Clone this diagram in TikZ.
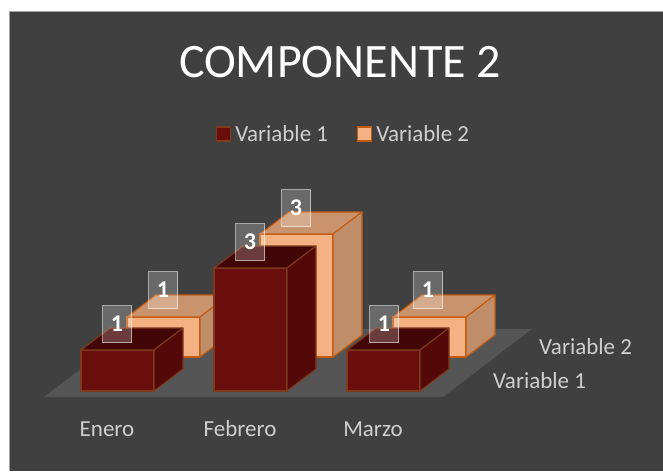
\documentclass[tikz,border=0pt]{standalone}
\usepackage{fontspec}
\setmainfont{Carlito}
\usetikzlibrary{positioning}

\definecolor{fondo}{HTML}{404040}
\definecolor{marco}{HTML}{A6A6A6}
\definecolor{piso}{HTML}{555555}
\definecolor{letra}{HTML}{CFCFCF}
\definecolor{rojoFrente}{HTML}{6B0E0E}
\definecolor{rojoArriba}{HTML}{420606}
\definecolor{rojoLado}{HTML}{540909}
\definecolor{rojoBorde}{HTML}{7E3A1C}
\definecolor{naranjaFrente}{HTML}{F4B183}
\definecolor{naranjaArriba}{HTML}{C9946D}
\definecolor{naranjaLado}{HTML}{C08D69}
\definecolor{naranjaBorde}{HTML}{C55A11}

\begin{document}
\begin{tikzpicture}[x=1pt,y=-1pt,
  titulo/.style={text=white, inner sep=0, font=\fontsize{48}{56}\selectfont},
  etiqueta/.style={text=letra, inner sep=0, font=\fontsize{23}{27}\selectfont},
  cuadro/.style={minimum size=14pt, inner sep=0, line width=1.2pt},
  dato/.style={draw=white, draw opacity=0.55, fill=white, fill opacity=0.22,
    text opacity=1, text=white, line width=1.2pt, inner sep=0,
    minimum width=29pt, minimum height=37pt, font=\fontsize{24}{28}\selectfont\bfseries},
  caraUno/.style={draw=rojoBorde, line width=1.1pt, line join=round},
  caraDos/.style={draw=naranjaBorde, line width=1.1pt, line join=round}]
\useasboundingbox (0,0) rectangle (663,471);
\fill[white] (0,0) rectangle (663,471);
\fill[fondo] (10,12) rectangle (663,471);
\draw[marco, line width=1.2pt] (9.6,471) -- (9.6,11.6) -- (663,11.6);

\node[titulo] (titulo) at (340,62) {COMPONENTE 2};

% leyenda
\node[cuadro, fill=rojoFrente, draw=rojoBorde] (leyUno) at (223.5,134) {};
\node[etiqueta, right=4pt of leyUno] (leyUnoTxt) {Variable 1};
\node[cuadro, fill=naranjaFrente, draw=naranjaBorde] (leyDos) at (364.5,134) {};
\node[etiqueta, right=4pt of leyDos] (leyDosTxt) {Variable 2};

% piso
\fill[piso] (44,397) -- (443,397) -- (532,329) -- (133,329) -- cycle;

% barras Variable 2
\foreach \x/\h in {127/40,260/123,393/40}{
  \filldraw[caraDos, fill=naranjaFrente] (\x,357) rectangle (\x+73,357-\h);
  \filldraw[caraDos, fill=naranjaArriba] (\x,357-\h) -- ++(29,-22) -- ++(73,0) -- ++(-29,22) -- cycle;
  \filldraw[caraDos, fill=naranjaLado] (\x+73,357) -- ++(29,-22) -- ++(0,-\h) -- ++(-29,22) -- cycle;
}
% barras Variable 1
\foreach \x/\h in {81/41,214/123,347/41}{
  \filldraw[caraUno, fill=rojoFrente] (\x,391) rectangle (\x+73,391-\h);
  \filldraw[caraUno, fill=rojoArriba] (\x,391-\h) -- ++(29,-22) -- ++(73,0) -- ++(-29,22) -- cycle;
  \filldraw[caraUno, fill=rojoLado] (\x+73,391) -- ++(29,-22) -- ++(0,-\h) -- ++(-29,22) -- cycle;
}

% etiquetas de datos
\foreach \x/\y/\v/\n in {163/290/1/datoEneDos, 296/208/3/datoFebDos, 428/290/1/datoMarDos,
  117/324/1/datoEneUno, 250/242/3/datoFebUno, 384/324/1/datoMarUno}
  \node[dato] (\n) at (\x,\y) {\v};

% ejes
\node[etiqueta] (enero) at (107,429) {Enero};
\node[etiqueta] (febrero) at (240,429) {Febrero};
\node[etiqueta] (marzo) at (373,429) {Marzo};
\node[etiqueta, anchor=west] (serieDos) at (539,347) {Variable 2};
\node[etiqueta, anchor=west] (serieUno) at (493,381) {Variable 1};

\end{tikzpicture}
\end{document}
